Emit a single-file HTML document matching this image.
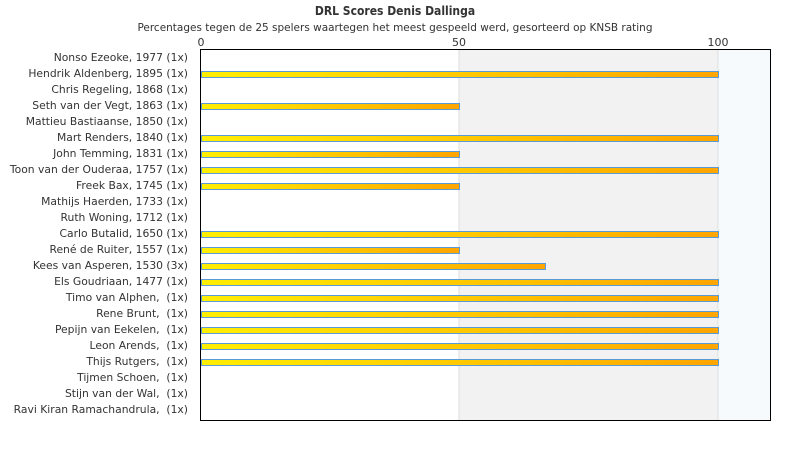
<!DOCTYPE html>
<html><head><meta charset="utf-8"><style>
body{margin:0;background:#fff;}
svg text{font-family:"DejaVu Sans","Liberation Sans",sans-serif;fill:#333;}
svg text.c{font-family:"DejaVu Sans Condensed","DejaVu Sans",sans-serif;}
</style></head><body>
<svg width="790" height="450" xmlns="http://www.w3.org/2000/svg">
<defs><linearGradient id="g" x1="0" x2="1" y1="0" y2="0"><stop offset="0" stop-color="#ffee00"/><stop offset="1" stop-color="#ffa500"/></linearGradient></defs>
<text class="c" x="395" y="15" text-anchor="middle" font-size="12" font-weight="bold">DRL Scores Denis Dallinga</text>
<text class="c" x="395" y="31" text-anchor="middle" font-size="11" textLength="515" lengthAdjust="spacingAndGlyphs">Percentages tegen de 25 spelers waartegen het meest gespeeld werd, gesorteerd op KNSB rating</text>
<rect x="459" y="50" width="259" height="370" fill="#f2f2f2"/>
<rect x="718" y="50" width="52" height="370" fill="#f7fafd"/>
<line x1="459" y1="50" x2="459" y2="420" stroke="#ddd"/>
<line x1="718" y1="50" x2="718" y2="420" stroke="#ddd"/>
<rect x="200.5" y="49.5" width="570" height="371" fill="none" stroke="#000"/>
<g font-size="11" text-anchor="middle"><text x="201" y="46">0</text><text x="459" y="46">50</text><text x="718" y="46">100</text></g>
<g font-size="10.75" text-anchor="end" id="labels">
<text x="188" y="61">Nonso Ezeoke, 1977 (1x)</text>
<text x="188" y="77">Hendrik Aldenberg, 1895 (1x)</text>
<text x="188" y="93">Chris Regeling, 1868 (1x)</text>
<text x="188" y="109">Seth van der Vegt, 1863 (1x)</text>
<text x="188" y="125">Mattieu Bastiaanse, 1850 (1x)</text>
<text x="188" y="141">Mart Renders, 1840 (1x)</text>
<text x="188" y="157">John Temming, 1831 (1x)</text>
<text x="188" y="173">Toon van der Ouderaa, 1757 (1x)</text>
<text x="188" y="189">Freek Bax, 1745 (1x)</text>
<text x="188" y="205">Mathijs Haerden, 1733 (1x)</text>
<text x="188" y="221">Ruth Woning, 1712 (1x)</text>
<text x="188" y="237">Carlo Butalid, 1650 (1x)</text>
<text x="188" y="253">René de Ruiter, 1557 (1x)</text>
<text x="188" y="269">Kees van Asperen, 1530 (3x)</text>
<text x="188" y="285">Els Goudriaan, 1477 (1x)</text>
<text x="188" y="301" xml:space="preserve">Timo van Alphen,  (1x)</text>
<text x="188" y="317" xml:space="preserve">Rene Brunt,  (1x)</text>
<text x="188" y="333" xml:space="preserve">Pepijn van Eekelen,  (1x)</text>
<text x="188" y="349" xml:space="preserve">Leon Arends,  (1x)</text>
<text x="188" y="365" xml:space="preserve">Thijs Rutgers,  (1x)</text>
<text x="188" y="381" xml:space="preserve">Tijmen Schoen,  (1x)</text>
<text x="188" y="397" xml:space="preserve">Stijn van der Wal,  (1x)</text>
<text x="188" y="413" xml:space="preserve">Ravi Kiran Ramachandrula,  (1x)</text>
</g>
<g fill="url(#g)" stroke="#5b9bd5" stroke-width="1">
<rect x="201.5" y="71.5" width="517" height="6"/>
<rect x="201.5" y="103.5" width="258" height="6"/>
<rect x="201.5" y="135.5" width="517" height="6"/>
<rect x="201.5" y="151.5" width="258" height="6"/>
<rect x="201.5" y="167.5" width="517" height="6"/>
<rect x="201.5" y="183.5" width="258" height="6"/>
<rect x="201.5" y="231.5" width="517" height="6"/>
<rect x="201.5" y="247.5" width="258" height="6"/>
<rect x="201.5" y="263.5" width="344" height="6"/>
<rect x="201.5" y="279.5" width="517" height="6"/>
<rect x="201.5" y="295.5" width="517" height="6"/>
<rect x="201.5" y="311.5" width="517" height="6"/>
<rect x="201.5" y="327.5" width="517" height="6"/>
<rect x="201.5" y="343.5" width="517" height="6"/>
<rect x="201.5" y="359.5" width="517" height="6"/>
</g>
</svg>
</body></html>
